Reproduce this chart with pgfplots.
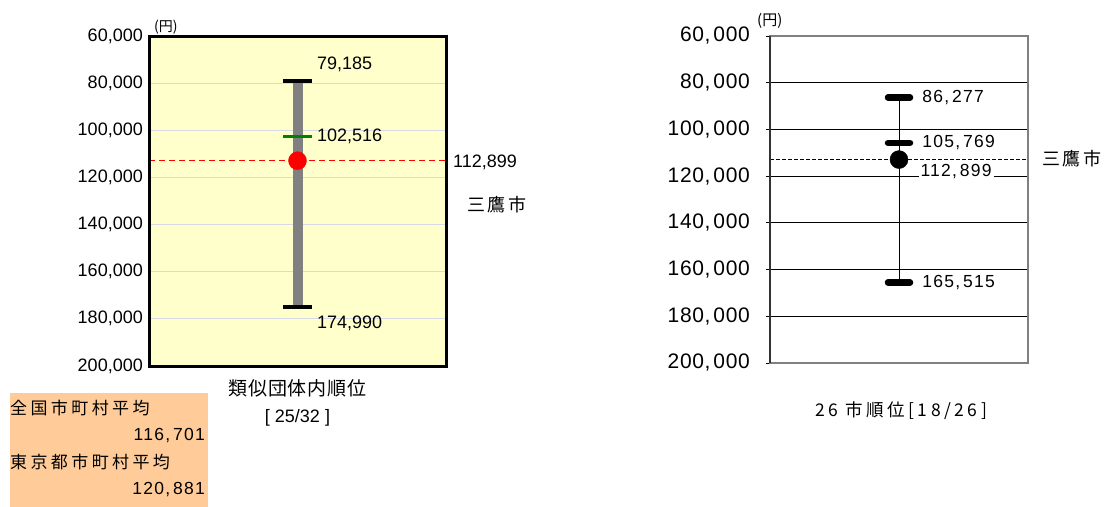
\documentclass[border=0pt]{standalone}
\usepackage{fontspec}
\usepackage{pgfplots}
\pgfplotsset{compat=1.18}
\setmainfont{Liberation Sans}
\newfontfamily\jp{Noto Sans CJK JP}
\newfontfamily\jpa[LetterSpace=5]{Noto Sans CJK JP}
\newfontfamily\spt[LetterSpace=3]{Liberation Sans}
\newfontfamily\spn[LetterSpace=7]{Liberation Sans}
\newfontfamily\spb[LetterSpace=7]{Liberation Sans}
\newfontfamily\jpsp[LetterSpace=15]{Noto Sans CJK JP}
\newfontfamily\jpsq[LetterSpace=20]{Noto Sans CJK JP}
\newcommand\cm{,\kern3bp}
\definecolor{bgy}{HTML}{FFFFCC}
\definecolor{gridl}{HTML}{D9D9E6}
\definecolor{orng}{HTML}{FFCC99}
\definecolor{grn}{HTML}{008000}
\definecolor{frm}{HTML}{808080}

\begin{document}
\begin{tikzpicture}
\useasboundingbox (0bp,0bp) rectangle (1108bp,-507bp);
% orange box
\fill[orng] (10bp,-393bp) rectangle (208bp,-507bp);
\node[anchor=west, inner sep=0pt, font=\jpsq\fontsize{17bp}{19bp}\selectfont] at (10bp,-408bp) {全国市町村平均};
\node[anchor=east, inner sep=0pt, font=\spb\fontsize{17.5bp}{19bp}\selectfont] at (205bp,-436bp) {116\cm 701};
\node[anchor=west, inner sep=0pt, font=\jpsq\fontsize{17bp}{19bp}\selectfont] at (10bp,-462bp) {東京都市町村平均};
\node[anchor=east, inner sep=0pt, font=\spb\fontsize{17.5bp}{19bp}\selectfont] at (205bp,-490bp) {120\cm 881};

% ---------------- left axis ----------------
\begin{axis}[
  at={(297.5bp,-201bp)}, anchor=center,
  scale only axis, width=297bp, height=330bp,
  xmin=0, xmax=2, ymin=60000, ymax=200000, y dir=reverse,
  axis background/.style={fill=bgy},
  axis line style={draw=none},
  xtick=\empty,
  scaled y ticks=false,
  ytick={60000,80000,100000,120000,140000,160000,180000,200000},
  yticklabels={{60,000},{80,000},{100,000},{120,000},{140,000},{160,000},{180,000},{200,000}},
  yticklabel style={font=\fontsize{18bp}{20bp}\selectfont, text=black, inner sep=0pt, xshift=-6bp},
  major tick length=0pt,
  ymajorgrids, grid style={gridl, line width=1.2bp},
  clip=false,
]
\addplot[frm, line width=10bp] coordinates {(1,79185) (1,174990)};
\addplot[only marks, mark=-, mark size=14.5bp, mark options={line width=3.5bp, black}] coordinates {(1,79185) (1,174990)};
\addplot[only marks, mark=-, mark size=14.5bp, mark options={line width=3bp, grn}] coordinates {(1,102516)};
\addplot[red, line width=1.2bp, dash pattern=on 6bp off 4bp] coordinates {(0,112899) (2,112899)};
\addplot[only marks, mark=*, mark size=9bp, mark options={draw=red, fill=red}] coordinates {(1,112899)};
\draw[black, line width=3bp] (rel axis cs:0,0) rectangle (rel axis cs:1,1);
\node[anchor=west, inner sep=0pt, font=\fontsize{18bp}{20bp}\selectfont] at (axis cs:1.13,71900) {79,185};
\node[anchor=west, inner sep=0pt, font=\fontsize{18bp}{20bp}\selectfont] at (axis cs:1.13,102516) {102,516};
\node[anchor=west, inner sep=0pt, font=\fontsize{18bp}{20bp}\selectfont] at (axis cs:1.13,181700) {174,990};
\end{axis}
\node[anchor=south west, inner sep=0pt, font=\jp\fontsize{14bp}{15bp}\selectfont] at (154bp,-34bp) {(円)};
\node[anchor=west, inner sep=0pt, font=\fontsize{18bp}{20bp}\selectfont] at (453bp,-162bp) {112,899};
\node[inner sep=0pt, font=\jpsp\fontsize{18bp}{20bp}\selectfont] at (497bp,-205bp) {三鷹市};
\node[inner sep=0pt, font=\jpa\fontsize{19bp}{21bp}\selectfont] at (297.5bp,-388bp) {類似団体内順位};
\node[inner sep=0pt, font=\fontsize{18bp}{20bp}\selectfont] at (297.5bp,-418bp) {[ 25/32 ]};

% ---------------- right axis ----------------
\begin{axis}[
  at={(899bp,-199.5bp)}, anchor=center,
  scale only axis, width=258bp, height=327bp,
  xmin=0, xmax=2, ymin=60000, ymax=200000, y dir=reverse,
  axis line style={draw=frm, line width=2bp},
  xtick=\empty,
  scaled y ticks=false,
  ytick={60000,80000,100000,120000,140000,160000,180000,200000},
  yticklabels={{60\cm 000},{80\cm 000},{100\cm 000},{120\cm 000},{140\cm 000},{160\cm 000},{180\cm 000},{200\cm 000}},
  yticklabel style={font=\spt\fontsize{21bp}{23bp}\selectfont, text=black, inner sep=0pt, xshift=-16bp},
  ytick pos=left, tick align=outside, major tick length=4bp,
  tick style={black, line width=1bp},
  ymajorgrids, grid style={black, line width=0.9bp},
  clip=false,
]
\addplot[black, line width=1bp] coordinates {(1,86277) (1,165515)};
\addplot[black, line width=1bp, dash pattern=on 4bp off 2bp] coordinates {(0,112899) (2,112899)};
\addplot[only marks, mark=-, mark size=11bp, mark options={line width=6.5bp, line cap=round, black}] coordinates {(1,86277) (1,105769) (1,165515)};
\addplot[only marks, mark=*, mark size=9bp, mark options={draw=black, fill=black}] coordinates {(1,112899)};
\draw[black!80, line width=2bp] (rel axis cs:0,0) -- (rel axis cs:0,1);
\node[anchor=west, inner sep=0pt, font=\spn\fontsize{17.5bp}{19bp}\selectfont] at (axis cs:1.18,86277) {86\cm 277};
\node[anchor=west, inner sep=0pt, font=\spn\fontsize{17.5bp}{19bp}\selectfont] at (axis cs:1.18,105769) {105\cm 769};
\node[anchor=west, fill=white, inner xsep=2bp, inner ysep=1bp, font=\spn\fontsize{17.5bp}{19bp}\selectfont] at (axis cs:1.15,118200) {112\cm 899};
\node[anchor=west, inner sep=0pt, font=\spn\fontsize{17.5bp}{19bp}\selectfont] at (axis cs:1.18,165515) {165\cm 515};
\end{axis}
\node[anchor=south west, inner sep=0pt, font=\jp\fontsize{15bp}{16bp}\selectfont] at (757bp,-29bp) {(円)};
\node[inner sep=0pt, font=\jpsp\fontsize{18bp}{20bp}\selectfont] at (1072bp,-159bp) {三鷹市};
\node[inner sep=0pt, font=\jpsq\fontsize{17.5bp}{19bp}\selectfont] at (901bp,-411bp) {26 市順位[18/26]};
\end{tikzpicture}
\end{document}
